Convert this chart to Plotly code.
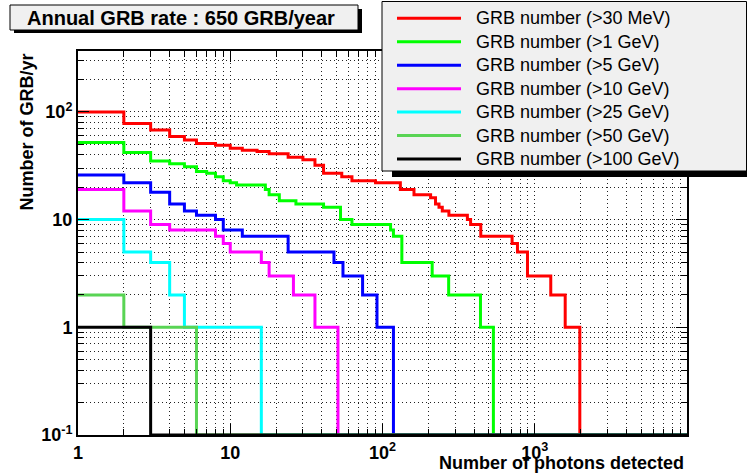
import math
import plotly.graph_objects as go

# ---------------- data ----------------
X_MAX = 1.0e4          # upper edge of the photon-count histograms
ZERO_LEVEL = 0.1       # empty bins are drawn on the axis floor
Y_MAX = 368.0

series_names = [
    "GRB number (>30 MeV)",
    "GRB number (>1 GeV)",
    "GRB number (>5 GeV)",
    "GRB number (>10 GeV)",
    "GRB number (>25 GeV)",
    "GRB number (>50 GeV)",
    "GRB number (>100 GeV)",
]
series_colors = ["#ff0000", "#00ff00", "#0000ff", "#ff00ff", "#00ffff", "#59d454", "#000000"]

# bin edges (number of photons detected) and GRB/yr in each bin
edges_30mev = [1, 2, 3, 4, 5, 6, 8, 10, 12, 15, 18, 24, 30, 36, 41, 54, 63, 90, 131, 161,
               207, 223, 235, 247, 273, 361, 379, 442, 710, 770, 896, 1274, 1585, 1977]
rate_30mev = [100, 78, 68, 59, 55, 51, 49, 46, 44, 43, 41, 38, 36, 32, 27, 25, 23, 22, 19, 17,
              16, 14, 13, 12, 11, 10, 9, 7, 6, 5, 3, 2, 1]

edges_1gev = [1, 2, 3, 4, 5, 6, 7, 8, 9, 10, 11, 17, 18, 21, 27, 41, 53, 63, 113, 118,
              134, 212, 272, 440, 535]
rate_1gev = [52, 42, 35, 33, 31, 28, 27, 25, 23, 22, 21, 19, 17, 15, 14, 13, 10, 9, 8, 7,
             4, 3, 2, 1]

edges_5gev = [1, 2, 3, 4, 5, 6, 8, 9, 12, 24, 48, 55, 74, 92, 118]
rate_5gev = [26, 22, 18, 14, 12, 11, 10, 8, 7, 5, 4, 3, 2, 1]

edges_10gev = [1, 2, 3, 4, 8, 9, 10, 16, 18, 26, 36, 51]
rate_10gev = [19, 12, 9, 8, 7, 6, 5, 4, 3, 2, 1]

edges_25gev = [1, 2, 3, 4, 5, 16]
rate_25gev = [10, 5, 4, 2, 1]

edges_50gev = [1, 2, 6]
rate_50gev = [2, 1]

edges_100gev = [1, 3]
rate_100gev = [1]

x_tick_vals = [1, 10, 100, 1000]
x_tick_text = ["1", "10", "10<sup>2</sup>", "10<sup>3</sup>"]
y_tick_vals = [0.1, 1, 10, 100]
y_tick_text = ["10<sup>-1</sup>", "1", "10", "10<sup>2</sup>"]

title_text = "Annual GRB rate : 650 GRB/year"
x_title = "Number of photons detected"
y_title = "Number of GRB/yr"

all_series = [
    (edges_30mev, rate_30mev),
    (edges_1gev, rate_1gev),
    (edges_5gev, rate_5gev),
    (edges_10gev, rate_10gev),
    (edges_25gev, rate_25gev),
    (edges_50gev, rate_50gev),
    (edges_100gev, rate_100gev),
]

# ---------------- layout geometry ----------------
W, H = 747, 475
L, R, T, B = 78, 687, 51, 435
FONT = "Liberation Sans, Arial, sans-serif"


def px_x(px):
    return (px - L) / (R - L)


def px_y(py):
    return (B - py) / (B - T)


fig = go.Figure()
for (edges, vals), name, color in zip(all_series, series_names, series_colors):
    xs = list(edges) + [X_MAX]
    ys = list(vals) + [ZERO_LEVEL, ZERO_LEVEL]
    fig.add_trace(go.Scatter(
        x=xs, y=ys, mode="lines", name=name,
        line=dict(color=color, width=3, shape="hv"),
        hoverinfo="skip", showlegend=False,
    ))

minor_x = [k * d for d in (1, 10, 100, 1000) for k in range(2, 10)]
minor_y = [v for v in [k * d for d in (0.1, 1, 10, 100) for k in range(2, 10)] if v < Y_MAX]

grid_dash = "1px,3px"
grid_color = "#222222"
axis_common = dict(
    type="log",
    showline=True, linewidth=2, linecolor="black", mirror="ticks",
    ticks="inside", ticklen=11, tickwidth=1, tickcolor="black",
    showgrid=True, gridcolor=grid_color, gridwidth=1, griddash=grid_dash,
    zeroline=False,
    tickfont=dict(family=FONT, size=18, color="black", weight="bold"),
    tickmode="array",
)

fig.update_xaxes(
    **axis_common,
    range=[0, math.log10(X_MAX)],
    tickvals=x_tick_vals, ticktext=x_tick_text,
    minor=dict(tickmode="array", tickvals=minor_x, ticks="inside", ticklen=6,
               tickcolor="black", showgrid=True, gridcolor=grid_color, gridwidth=1,
               griddash=grid_dash),
)
fig.update_yaxes(
    **axis_common,
    range=[math.log10(ZERO_LEVEL), math.log10(Y_MAX)],
    tickvals=y_tick_vals, ticktext=y_tick_text,
    minor=dict(tickmode="array", tickvals=minor_y, ticks="inside", ticklen=6,
               tickcolor="black", showgrid=True, gridcolor=grid_color, gridwidth=1,
               griddash=grid_dash),
)

shapes = [
    # title box shadow + box
    dict(type="rect", xref="paper", yref="paper", layer="above",
         x0=px_x(14), x1=px_x(362), y0=px_y(33), y1=px_y(9),
         fillcolor="black", line=dict(width=0)),
    dict(type="rect", xref="paper", yref="paper", layer="above",
         x0=px_x(10), x1=px_x(358), y0=px_y(30), y1=px_y(5),
         fillcolor="#f0f0f0", line=dict(color="black", width=1)),
    # legend box shadow + box
    dict(type="rect", xref="paper", yref="paper", layer="above",
         x0=px_x(392), x1=px_x(760), y0=px_y(177), y1=px_y(7),
         fillcolor="black", line=dict(width=0)),
    dict(type="rect", xref="paper", yref="paper", layer="above",
         x0=px_x(382), x1=px_x(746.5), y0=px_y(171), y1=px_y(1.5),
         fillcolor="#f0f0f0", line=dict(color="black", width=1)),
]

annotations = [
    dict(text=title_text, xref="paper", yref="paper", x=px_x(181), y=px_y(18),
         xanchor="center", yanchor="middle", showarrow=False,
         font=dict(family=FONT, size=20, color="black", weight="bold")),
    dict(text=x_title, xref="paper", yref="paper", x=px_x(686), y=px_y(463),
         xanchor="right", yanchor="middle", showarrow=False,
         font=dict(family=FONT, size=18, color="black", weight="bold")),
    dict(text=y_title, xref="paper", yref="paper", x=px_x(26), y=px_y(51),
         xanchor="center", yanchor="top", textangle=-90, showarrow=False,
         font=dict(family=FONT, size=18, color="black", weight="bold")),
]

# legend entries (ROOT-style TLegend box)
LEG_ROW0, LEG_ROW_STEP = 18.3, 23.45
for i, (name, color) in enumerate(zip(series_names, series_colors)):
    yc = LEG_ROW0 + i * LEG_ROW_STEP
    shapes.append(dict(type="line", xref="paper", yref="paper", layer="above",
                       x0=px_x(397), x1=px_x(461), y0=px_y(yc), y1=px_y(yc),
                       line=dict(color=color, width=3)))
    annotations.append(dict(text=name, xref="paper", yref="paper",
                            x=px_x(474), y=px_y(yc), xanchor="left", yanchor="middle",
                            showarrow=False,
                            font=dict(family=FONT, size=18, color="black")))

fig.update_layout(
    width=W, height=H,
    margin=dict(l=L, r=W - R, t=T, b=H - B, pad=0, autoexpand=False),
    paper_bgcolor="white", plot_bgcolor="white",
    font=dict(family=FONT, color="black"),
    showlegend=False,
    shapes=shapes,
    annotations=annotations,
)

fig.write_html(
    "out.html",
    config={"displayModeBar": False, "staticPlot": True},
    post_script="document.body.style.margin='0';document.body.style.overflow='hidden';",
)
